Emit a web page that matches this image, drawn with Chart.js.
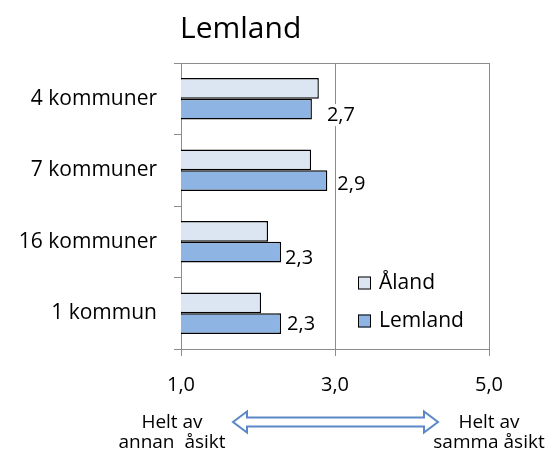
<!DOCTYPE html>
<html>
<head>
<meta charset="utf-8">
<script src="https://cdn.jsdelivr.net/npm/chart.js@4.4.1/dist/chart.umd.min.js"></script>
<style>
  html, body { margin: 0; padding: 0; background: #ffffff; }
  #wrap { width: 545px; height: 455px; position: relative; }
</style>
</head>
<body>
<div id="wrap"><canvas id="c" width="545" height="455"></canvas></div>
<script>
// Survey scores per municipality group (scale 1-5)
const categories = ['4 kommuner', '7 kommuner', '16 kommuner', '1 kommun'];
const alandValues = [2.79, 2.69, 2.13, 2.04];
const lemlandValues = [2.7, 2.9, 2.3, 2.3];
const xTickValues = [1, 3, 5];
const seriesNames = ['Åland', 'Lemland'];
const chartTitle = 'Lemland';
const leftNote = ['Helt av', 'annan  åsikt'];
const rightNote = ['Helt av', 'samma åsikt'];

const FONT = '"Open Sans", Lato, sans-serif';
const GRID = '#8c8c8c';
const fmt = v => v.toFixed(1).replace('.', ',');

// Outer frame of the plot area (top and right edges included)
const frame = {
  id: 'frame',
  beforeDatasetsDraw(chart) {
    const { ctx, chartArea: a } = chart;
    ctx.save();
    ctx.strokeStyle = GRID;
    ctx.lineWidth = 1;
    ctx.strokeRect(Math.round(a.left) + 0.5, Math.round(a.top) + 0.5,
                   Math.round(a.right - a.left), Math.round(a.bottom - a.top));
    ctx.restore();
  }
};

// Value labels for the Lemland series
const valueLabels = {
  id: 'valueLabels',
  afterDatasetsDraw(chart, args, opts) {
    const { ctx } = chart;
    const meta = chart.getDatasetMeta(1);
    ctx.save();
    ctx.font = '20px ' + FONT;
    ctx.textBaseline = 'middle';
    ctx.textAlign = 'left';
    meta.data.forEach((bar, i) => {
      const txt = fmt(chart.data.datasets[1].data[i]);
      const x = bar.x + (opts.nudge[i] || 4);
      const y = bar.y + (opts.lift[i] || 0);
      const w = ctx.measureText(txt).width;
      ctx.fillStyle = '#ffffff';
      ctx.fillRect(x - 1, y - 11, w + 2, 22);
      ctx.fillStyle = '#000000';
      ctx.fillText(txt, x, y);
    });
    ctx.restore();
  }
};

// Title, legend box inside the plot and the scale explanation under the axis
const extras = {
  id: 'extras',
  afterDraw(chart) {
    const { ctx, chartArea: a, scales } = chart;
    ctx.save();
    // title
    ctx.fillStyle = '#000000';
    ctx.font = '30px ' + FONT;
    ctx.textAlign = 'left';
    ctx.textBaseline = 'alphabetic';
    ctx.fillText(chartTitle, a.left - 1, 38);

    // legend
    ctx.font = '21px ' + FONT;
    ctx.textBaseline = 'middle';
    chart.data.datasets.forEach((ds, i) => {
      const y = 283 + i * 38;
      const bx = 358;
      ctx.fillStyle = ds.backgroundColor;
      ctx.fillRect(bx, y - 6.5, 13, 13);
      ctx.strokeStyle = '#000000';
      ctx.lineWidth = 1;
      ctx.strokeRect(bx + 0.5, y - 6, 12, 12);
      ctx.fillStyle = '#000000';
      ctx.fillText(ds.label, 379, y);
    });

    // notes under the axis ends
    const xs = scales.x;
    const lx = xs.getPixelForValue(xTickValues[0]) - 9;
    const rx = xs.getPixelForValue(xTickValues[xTickValues.length - 1]);
    ctx.font = '19px ' + FONT;
    ctx.textAlign = 'center';
    ctx.textBaseline = 'alphabetic';
    ctx.fillText(leftNote[0], lx, 428);
    ctx.fillText(leftNote[1], lx, 448);
    ctx.fillText(rightNote[0], rx, 428);
    ctx.fillText(rightNote[1], rx, 448);

    // double-headed arrow
    const x0 = 233, x1 = 438, cy = 422;
    const sh = 4.5, hh = 10.5, hl = 14;
    ctx.beginPath();
    ctx.moveTo(x0, cy);
    ctx.lineTo(x0 + hl, cy - hh);
    ctx.lineTo(x0 + hl, cy - sh);
    ctx.lineTo(x1 - hl, cy - sh);
    ctx.lineTo(x1 - hl, cy - hh);
    ctx.lineTo(x1, cy);
    ctx.lineTo(x1 - hl, cy + hh);
    ctx.lineTo(x1 - hl, cy + sh);
    ctx.lineTo(x0 + hl, cy + sh);
    ctx.lineTo(x0 + hl, cy + hh);
    ctx.closePath();
    ctx.fillStyle = '#ffffff';
    ctx.fill();
    ctx.strokeStyle = '#5a88c6';
    ctx.lineWidth = 2;
    ctx.stroke();
    ctx.restore();
  }
};

new Chart(document.getElementById('c'), {
  type: 'bar',
  data: {
    labels: categories,
    datasets: [
      { label: seriesNames[0], data: alandValues, backgroundColor: '#dce6f2',
        borderColor: '#000000', borderWidth: 1.4 },
      { label: seriesNames[1], data: lemlandValues, backgroundColor: '#8eb4e3',
        borderColor: '#000000', borderWidth: 1.4 }
    ]
  },
  options: {
    indexAxis: 'y',
    responsive: false,
    animation: false,
    devicePixelRatio: 1,
    layout: { padding: { left: 0, right: 56, top: 63, bottom: 56 } },
    datasets: { bar: { categoryPercentage: 0.58, barPercentage: 1 } },
    plugins: {
      legend: { display: false },
      title: { display: false },
      tooltip: { enabled: false },
      valueLabels: { nudge: [15, 10, 4, 6], lift: [6, 4, 6, 1] }
    },
    scales: {
      x: {
        min: 1, max: 5,
        afterBuildTicks: s => { s.ticks = xTickValues.map(v => ({ value: v })); },
        afterFit: s => { s.height = 50; },
        ticks: { callback: v => fmt(v), color: '#000000',
                 font: { family: FONT, size: 20 }, padding: 17 },
        grid: { color: GRID, tickLength: 7, lineWidth: 1 },
        border: { color: GRID }
      },
      y: {
        afterFit: s => { s.width = 181; },
        ticks: { color: '#000000', font: { family: FONT, size: 21 }, padding: 17 },
        grid: { drawOnChartArea: false, color: GRID, tickLength: 7 },
        border: { color: GRID }
      }
    }
  },
  plugins: [frame, valueLabels, extras]
});
</script>
</body>
</html>
